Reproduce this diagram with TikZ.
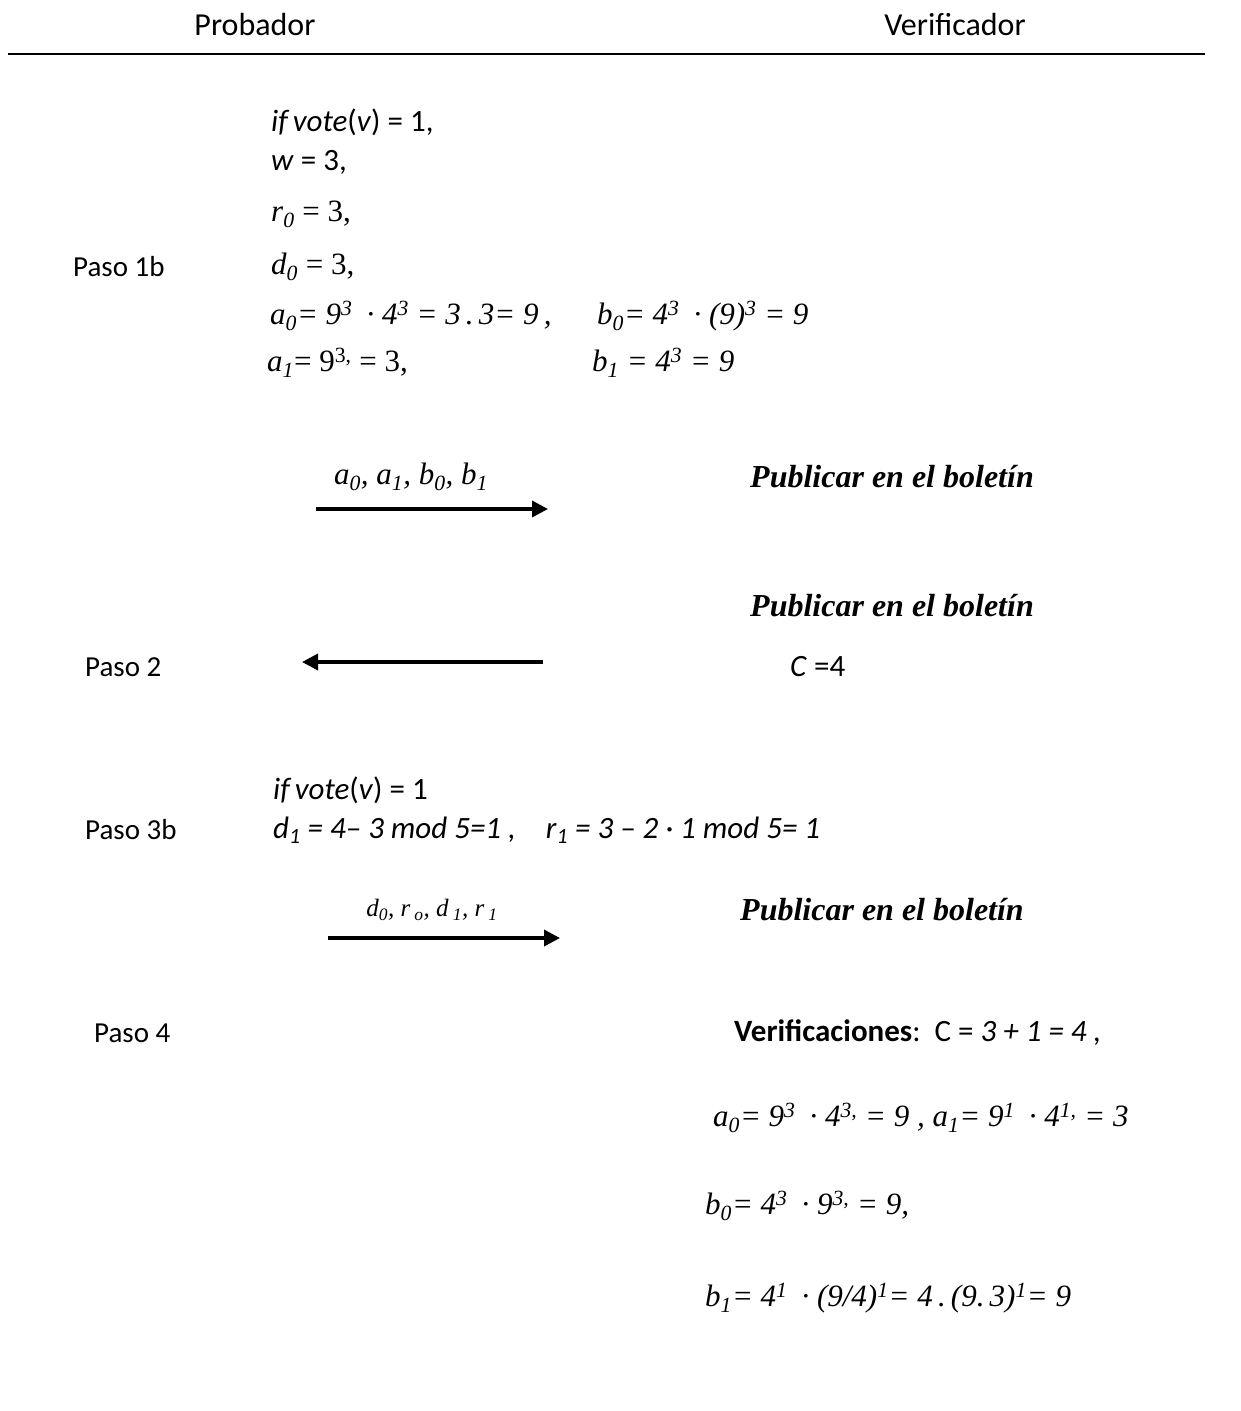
\documentclass[tikz,border=0pt]{standalone}
\usepackage{fontspec}
\setmainfont{Carlito}
\newfontfamily\cam{Liberation Serif}
\usetikzlibrary{arrows.meta}
\tikzset{
 lbl/.style={anchor=west,inner sep=0pt,font=\fontsize{29}{34}\selectfont},
 hdr/.style={inner sep=0pt,font=\fontsize{32}{38}\selectfont},
 eqc/.style={anchor=west,inner sep=0pt,font=\fontsize{31}{36}\selectfont},
 eqm/.style={anchor=west,inner sep=0pt,font=\fontsize{31}{36}\selectfont\cam\itshape},
 pub/.style={anchor=west,inner sep=0pt,font=\fontsize{32}{38}\selectfont\cam\bfseries\itshape},
 msg/.style={line width=3.5pt,-{Triangle[length=16pt,width=16pt]}},
}
\newcommand{\up}[1]{\textsuperscript{#1}}
\newcommand{\dn}[1]{\textsubscript{#1}}
\newcommand{\gap}{\hspace{14pt}}
\begin{document}
\begin{tikzpicture}[x=1pt,y=-1pt]
\fill[white] (0,0) rectangle (1241,1411);
\useasboundingbox (0,0) rectangle (1241,1411);
% header
\node[hdr] (prob) at (255,25) {Probador};
\node[hdr] (verif) at (955,25) {Verificador};
\coordinate (hl) at (8,54);
\coordinate (hr) at (1205,54);
\draw[line width=2pt] (hl) -- (hr);
% step 1b
\node[lbl] (p1) at (73,267) {Paso 1b};
\node[eqc] (e1) at (271,122) {\itshape if\,vote\upshape(\textit{v}) = 1,};
\node[eqc] (e2) at (271,162) {\textit{w} = 3,};
\node[eqm] (e3) at (271,214) {r\dn{0}\upshape{} = 3,};
\node[eqm] (e4) at (271,267) {d\dn{0}\upshape{} = 3,};
\node[eqm] (e5) at (270,316) {a\dn{0}= 9\up{3}\gap· 4\up{3} = 3\,.\,3= 9\,,};
\node[eqm] (e6) at (597,316) {b\dn{0}= 4\up{3}\gap· (9)\up{3} = 9};
\node[eqm] (e7) at (267,363) {a\dn{1}\upshape= 9\up{3,} = 3,};
\node[eqm] (e8) at (592,363) {b\dn{1} = 4\up{3} = 9};
% message 1
\node[eqm,anchor=center] (m1) at (411,477) {a\dn{0}, a\dn{1}, b\dn{0}, b\dn{1}};
\coordinate (m1s) at (316,509);
\coordinate (m1e) at (548,509);
\draw[msg] (m1s) -- (m1e);
\node[pub] (pub1) at (750,477) {Publicar en el boletín};
% step 2
\node[pub] (pub2) at (750,606) {Publicar en el boletín};
\node[lbl] (p2) at (85,667) {Paso 2};
\coordinate (m2s) at (543,662);
\coordinate (m2e) at (302,662);
\draw[msg] (m2s) -- (m2e);
\node[eqc] (cval) at (790,667) {\textit{C} =4};
% step 3b
\node[eqc] (e9) at (273,790) {\itshape if\,vote\upshape(\textit{v}) = 1};
\node[lbl] (p3) at (85,830) {Paso 3b};
\node[eqc] (e10) at (273,830) {\itshape d\dn{1} = 4– 3 mod 5=1 ,\hspace{30pt}r\dn{1} = 3 – 2 · 1\ mod 5= 1};
\node[eqm,anchor=center,font=\fontsize{25}{30}\selectfont\cam\itshape] (m3) at (432,910) {d\dn{0}, r\,\dn{o}, d\,\dn{1}, r\,\dn{1}};
\coordinate (m3s) at (328,938);
\coordinate (m3e) at (560,938);
\draw[msg] (m3s) -- (m3e);
\node[pub] (pub3) at (740,910) {Publicar en el boletín};
% step 4
\node[lbl] (p4) at (94,1033) {Paso 4};
\node[eqc] (v0) at (734,1033) {\textbf{Verificaciones}:\ \ C = \textit{3 + 1 = 4 ,}};
\node[eqm] (v1) at (713,1118) {a\dn{0}= 9\up{3}\gap· 4\up{3,} = 9\ ,\ a\dn{1}= 9\up{1}\gap· 4\up{1,} = 3};
\node[eqm] (v2) at (705,1206) {b\dn{0}= 4\up{3}\gap· 9\up{3,} = 9,};
\node[eqm] (v3) at (705,1298) {b\dn{1}= 4\up{1}\gap· (9/4)\up{1}= 4\,.\,(9.\,3)\up{1}= 9};
\end{tikzpicture}
\end{document}
